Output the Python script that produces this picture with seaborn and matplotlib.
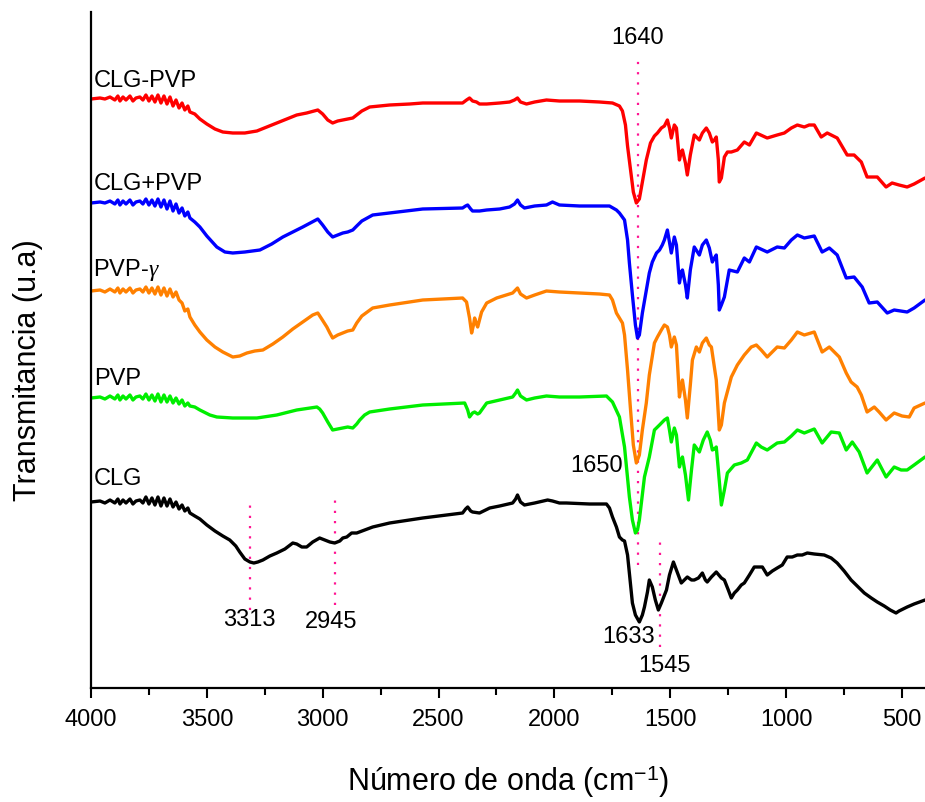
import matplotlib
matplotlib.use("Agg")
import matplotlib.pyplot as plt
import seaborn as sns
import pandas as pd

# ---------------------------------------------------------------------------
# FTIR spectra (wavenumber in cm-1, transmittance in arbitrary stacked units)
# ---------------------------------------------------------------------------
noise_wn = [3961, 3940, 3918, 3897, 3884, 3875, 3862, 3849, 3832, 3819, 3806,
            3789, 3776, 3763, 3750, 3737, 3724, 3711, 3698, 3685, 3672, 3659,
            3646, 3633, 3620, 3607, 3595, 3582, 3573]

# CLG-PVP
clg_pvp_wn = [4000] + noise_wn + [
    3552, 3530, 3500, 3465, 3431, 3388, 3336, 3284, 3241, 3198, 3155, 3112, 3069,
    3021, 3000, 2978, 2957, 2935, 2913, 2892, 2870, 2853, 2831, 2797, 2754, 2711,
    2624, 2568, 2495, 2396, 2379, 2366, 2353, 2336, 2323, 2292, 2236, 2193, 2172,
    2159, 2146, 2120, 2085, 2034, 1978, 1891, 1805, 1749, 1719, 1706, 1693, 1684,
    1671, 1659, 1646, 1633, 1620, 1603, 1585, 1568, 1555, 1538, 1525, 1512, 1503,
    1495, 1482, 1473, 1460, 1452, 1447, 1434, 1426, 1413, 1396, 1374, 1361, 1344,
    1331, 1318, 1309, 1301, 1292, 1288, 1279, 1266, 1253, 1236, 1210, 1180, 1158,
    1128, 1081, 1038, 1007, 977, 951, 921, 900, 878, 848, 822, 779, 736, 706, 675,
    650, 606, 568, 542, 512, 477, 447, 400]
clg_pvp_t = [589, 590, 589, 591, 588, 592, 587, 591, 588, 592, 587, 590, 591, 588,
             593, 587, 592, 586, 593, 585, 592, 584, 591, 582, 588, 580, 585, 578,
             582, 576] + [
    574, 569, 564, 559, 556, 555, 555, 557, 561, 565, 569, 573, 575,
    578, 574, 568, 565, 567, 568, 569, 570, 573, 577, 581, 582, 583,
    584, 585, 585, 585, 588, 590, 587, 586, 584, 584, 585, 586, 588,
    590, 586, 584, 586, 588, 587, 587, 586, 585, 582, 577, 563, 542,
    518, 496, 485, 489, 506, 528, 545, 552, 555, 560, 562, 568, 560,
    550, 563, 560, 528, 536, 538, 525, 513, 533, 553, 548, 555, 560,
    555, 546, 548, 551, 528, 506, 510, 531, 536, 536, 538, 546, 543,
    555, 550, 553, 555, 560, 563, 561, 563, 563, 551, 555, 550, 533, 533, 526,
    511, 511, 501, 505, 503, 501, 504, 510]

# CLG+PVP
clg_plus_pvp_wn = [4000] + noise_wn + [
    3552, 3530, 3500, 3457, 3422, 3388, 3336, 3271, 3220, 3172, 3129, 3086, 3021,
    3000, 2978, 2957, 2935, 2913, 2892, 2870, 2853, 2831, 2784, 2711, 2568, 2396,
    2383, 2374, 2361, 2353, 2323, 2292, 2236, 2193, 2172, 2159, 2146, 2129, 2085,
    2034, 2008, 1978, 1891, 1805, 1762, 1732, 1719, 1697, 1684, 1676, 1663, 1650,
    1641, 1633, 1620, 1603, 1590, 1577, 1559, 1546, 1534, 1525, 1512, 1503, 1495,
    1482, 1473, 1460, 1452, 1447, 1434, 1426, 1413, 1396, 1374, 1361, 1344, 1331,
    1318, 1309, 1301, 1292, 1288, 1279, 1266, 1245, 1210, 1180, 1158, 1128, 1081,
    1038, 1007, 977, 951, 921, 878, 844, 813, 779, 740, 706, 671, 641, 606, 563,
    533, 477, 447, 400]
clg_plus_pvp_t = [485, 486, 485, 487, 484, 488, 483, 487, 484, 488, 483, 486, 487,
                  484, 489, 483, 488, 482, 489, 481, 488, 479, 487, 477, 484, 475,
                  480, 472, 476, 470] + [
    466, 461, 452, 441, 436, 435, 436, 438, 444, 451, 456, 461, 469,
    463, 456, 451, 453, 455, 456, 458, 462, 467, 473, 475, 479, 480,
    482, 483, 479, 477, 477, 478, 479, 481, 484, 488, 483, 480, 482,
    483, 486, 483, 482, 482, 482, 478, 475, 468, 448, 425, 393, 363,
    350, 353, 375, 398, 415, 426, 435, 438, 443, 448, 458, 446, 435,
    451, 443, 405, 416, 418, 403, 390, 418, 441, 433, 443, 448, 440,
    426, 430, 433, 403, 378, 383, 391, 418, 416, 430, 426, 441, 436,
    441, 440, 448, 453, 450, 452, 436, 440, 433, 410, 411, 401, 385, 386, 375,
    378, 376, 380, 388]

# PVP-gamma
pvp_gamma_wn = [4000] + noise_wn + [
    3552, 3530, 3500, 3465, 3431, 3388, 3358, 3327, 3293, 3258, 3215, 3172, 3129,
    3086, 3043, 3021, 3004, 2982, 2969, 2957, 2935, 2913, 2892, 2870, 2853, 2831,
    2784, 2711, 2568, 2396, 2379, 2366, 2357, 2349, 2344, 2336, 2331, 2314, 2292,
    2249, 2180, 2167, 2159, 2146, 2120, 2085, 2034, 1978, 1891, 1805, 1762, 1749,
    1732, 1706, 1697, 1684, 1671, 1659, 1646, 1633, 1620, 1603, 1590, 1568, 1555,
    1538, 1525, 1512, 1503, 1495, 1482, 1473, 1460, 1452, 1447, 1434, 1426, 1413,
    1404, 1387, 1374, 1361, 1344, 1331, 1322, 1309, 1301, 1288, 1279, 1266, 1236,
    1210, 1180, 1150, 1128, 1107, 1081, 1038, 1007, 977, 951, 921, 878, 844, 813,
    770, 740, 719, 693, 675, 650, 619, 598, 568, 533, 499, 468, 447, 400]
pvp_gamma_t = [397, 398, 396, 399, 396, 400, 395, 399, 396, 400, 395, 398, 399,
               396, 401, 395, 400, 394, 401, 393, 400, 392, 399, 391, 396, 388,
               385, 377, 379, 371] + [
    363, 356, 348, 341, 336, 331, 332, 335, 337, 338, 344, 351, 359,
    366, 373, 375, 369, 361, 355, 350, 353, 355, 357, 358, 365, 372,
    380, 383, 388, 390, 386, 370, 355, 363, 370, 364, 361, 376, 385,
    390, 395, 398, 400, 394, 390, 393, 397, 396, 395, 394, 393, 388,
    375, 365, 353, 318, 278, 243, 225, 233, 258, 285, 313, 345, 351,
    358, 363, 361, 353, 341, 351, 343, 291, 303, 308, 288, 270, 303,
    328, 341, 336, 345, 350, 343, 341, 321, 308, 258, 263, 285, 311,
    323, 333, 341, 343, 338, 331, 341, 340, 348, 356, 353, 356, 336, 341,
    331, 315, 306, 301, 293, 276, 281, 276, 268, 275, 272, 271, 280, 285]

# PVP
pvp_wn = [4000] + noise_wn + [
    3552, 3530, 3487, 3457, 3388, 3284, 3198, 3112, 3025, 3013, 3000, 2978, 2957,
    2935, 2913, 2892, 2870, 2853, 2840, 2819, 2797, 2711, 2568, 2387, 2374, 2366,
    2353, 2344, 2331, 2323, 2292, 2236, 2180, 2167, 2159, 2146, 2120, 2085, 2034,
    1978, 1891, 1775, 1749, 1719, 1697, 1676, 1663, 1650, 1641, 1633, 1611, 1590,
    1568, 1546, 1525, 1512, 1503, 1495, 1482, 1473, 1460, 1452, 1447, 1434, 1421,
    1408, 1396, 1374, 1357, 1340, 1327, 1318, 1309, 1301, 1292, 1279, 1266, 1253,
    1223, 1193, 1167, 1128, 1107, 1081, 1038, 1007, 977, 951, 921, 878, 844, 805,
    770, 740, 714, 684, 650, 606, 568, 533, 503, 477, 447, 400]
pvp_t = [290, 291, 289, 292, 289, 293, 288, 292, 289, 293, 288, 291, 292, 289,
         294, 288, 293, 287, 294, 286, 293, 286, 292, 285, 290, 284, 288, 282,
         285, 282] + [
    281, 278, 273, 271, 270, 270, 273, 278, 281, 279, 275, 266, 258,
    259, 260, 261, 260, 264, 268, 273, 276, 279, 283, 285, 278, 271,
    275, 276, 274, 275, 285, 288, 291, 295, 298, 292, 288, 290, 292,
    291, 291, 292, 286, 271, 241, 191, 168, 155, 158, 168, 211, 231,
    258, 263, 268, 270, 258, 246, 260, 253, 221, 228, 231, 213, 188,
    218, 243, 236, 248, 256, 248, 238, 239, 241, 218, 183, 198, 215,
    223, 225, 228, 245, 241, 238, 245, 246, 252, 258, 255, 259, 245, 256,
    255, 238, 246, 236, 215, 228, 211, 221, 218, 218, 223, 231]

# CLG
clg_wn = [4000] + noise_wn + [
    3552, 3530, 3500, 3465, 3431, 3401, 3375, 3358, 3336, 3314, 3297, 3280, 3258,
    3228, 3198, 3163, 3129, 3112, 3090, 3069, 3043, 3013, 2991, 2969, 2948, 2926,
    2913, 2896, 2875, 2853, 2819, 2784, 2711, 2568, 2396, 2383, 2374, 2361, 2353,
    2323, 2279, 2236, 2180, 2167, 2159, 2146, 2129, 2085, 2029, 2008, 1978, 1948,
    1848, 1775, 1762, 1749, 1732, 1719, 1706, 1697, 1684, 1676, 1663, 1650, 1633,
    1620, 1611, 1598, 1590, 1577, 1564, 1551, 1538, 1516, 1503, 1486, 1473, 1460,
    1452, 1439, 1426, 1408, 1396, 1378, 1361, 1348, 1340, 1322, 1301, 1279, 1266,
    1249, 1236, 1223, 1210, 1193, 1180, 1158, 1137, 1115, 1102, 1089, 1081, 1059,
    1038, 1016, 995, 973, 951, 930, 908, 878, 835, 805, 779, 749, 719, 693, 662,
    632, 606, 576, 550, 525, 512, 477, 447, 400]
clg_t = [186, 187, 185, 188, 185, 189, 184, 188, 185, 189, 184, 187, 188, 185,
         191, 184, 190, 183, 191, 182, 190, 182, 189, 181, 186, 179, 183, 177,
         180, 175] + [
    172, 169, 163, 157, 152, 148, 142, 136, 129, 126, 125, 126, 128,
    132, 135, 139, 145, 144, 141, 141, 146, 150, 148, 146, 145, 147,
    150, 151, 155, 155, 158, 161, 165, 170, 175, 179, 181, 177, 176,
    175, 180, 182, 185, 189, 193, 186, 183, 185, 188, 187, 185, 185,
    184, 184, 180, 171, 161, 151, 148, 147, 133, 115, 85, 73, 66,
    73, 81, 96, 108, 101, 88, 78, 85, 98, 113, 126, 118, 110,
    105, 108, 111, 108, 108, 110, 115, 108, 106, 111, 116, 110, 108,
    98, 90, 95, 98, 103, 105, 113, 121, 121, 121, 116, 113, 117,
    120, 123, 131, 131, 133, 133, 135, 134, 133, 130, 125, 117, 108, 102, 95,
    90, 86, 82, 78, 75, 77, 81, 84, 88]

series = [
    ("CLG-PVP", clg_pvp_wn, clg_pvp_t, "#FF0000"),
    ("CLG+PVP", clg_plus_pvp_wn, clg_plus_pvp_t, "#0000FF"),
    ("PVP-$\\gamma$", pvp_gamma_wn, pvp_gamma_t, "#FF8000"),
    ("PVP", pvp_wn, pvp_t, "#00EE00"),
    ("CLG", clg_wn, clg_t, "#000000"),
]

# curve name labels: (text, left wavenumber, height)
curve_labels = [("CLG-PVP", 3990, 607), ("CLG+PVP", 3990, 504),
                ("PVP-$\\gamma$", 3990, 418), ("PVP", 3985, 309),
                ("CLG", 3990, 209)]

# band markers: (wavenumber, lower, upper)
band_lines = [(1640, 123, 631), (3313, 78, 186), (2945, 83, 189), (1545, 41, 148)]
# band labels: (text, wavenumber, height, horizontal alignment)
band_labels = [("1640", 1640, 650, "center"), ("3313", 3315, 68, "center"),
               ("2945", 2965, 66, "center"), ("1650", 1706, 222, "right"),
               ("1633", 1680, 51, "center"), ("1545", 1526, 22, "center")]

x_ticks = [4000, 3500, 3000, 2500, 2000, 1500, 1000, 500]
x_minor = [3750, 3250, 2750, 2250, 1750, 1250, 750]

sns.set_style("white")
plt.rcParams["font.family"] = ["Liberation Sans", "DejaVu Sans"]
plt.rcParams["mathtext.fontset"] = "custom"
plt.rcParams["mathtext.rm"] = "Liberation Sans"
plt.rcParams["mathtext.it"] = "Liberation Serif:italic"
plt.rcParams["text.color"] = "black"
plt.rcParams["axes.labelcolor"] = "black"
plt.rcParams["xtick.color"] = "black"
plt.rcParams["xtick.labelcolor"] = "black"

fig = plt.figure(figsize=(9.25, 8.02), dpi=100)
ax = fig.add_axes([91 / 925, 1 - 688 / 802, (925 - 91) / 925, (688 - 12) / 802])

for name, wn, t, color in series:
    df = pd.DataFrame({"wn": wn, "t": t})
    sns.lineplot(data=df, x="wn", y="t", color=color, linewidth=2.4,
                 sort=False, estimator=None, ax=ax)

for wn, lo, hi in band_lines:
    ax.plot([wn, wn], [lo, hi], color="#FF1493", linewidth=1.6,
            linestyle=(0, (1, 3.6)), zorder=1)

for text, wn, y, ha in band_labels:
    ax.text(wn, y, text, ha=ha, va="center", fontsize=17, color="black")

for text, wn, y in curve_labels:
    ax.text(wn, y, text, ha="left", va="center", fontsize=17, color="black")

ax.set_xlim(4000, 400)
ax.set_ylim(0, 676)
ax.set_xticks(x_ticks)
ax.set_xticks(x_minor, minor=True)
ax.set_yticks([])
ax.tick_params(axis="x", which="major", direction="out", length=7, width=1.5,
               labelsize=17, pad=8, bottom=True, colors="black")
ax.tick_params(axis="x", which="minor", direction="out", length=5, width=1.5,
               bottom=True, colors="black")
for side in ("top", "right"):
    ax.spines[side].set_visible(False)
for side in ("left", "bottom"):
    ax.spines[side].set_linewidth(1.6)
    ax.spines[side].set_color("black")

ax.set_xlabel("Número de onda (cm$^{-1}$)", fontsize=22, color="black")
ax.xaxis.set_label_coords(0.5, (688 - 763) / 676)
ax.set_ylabel("Transmitancia (u.a)", fontsize=22, color="black")
ax.yaxis.set_label_coords((43 - 91) / 834, 0.47)

fig.savefig("out.png", dpi=100)
